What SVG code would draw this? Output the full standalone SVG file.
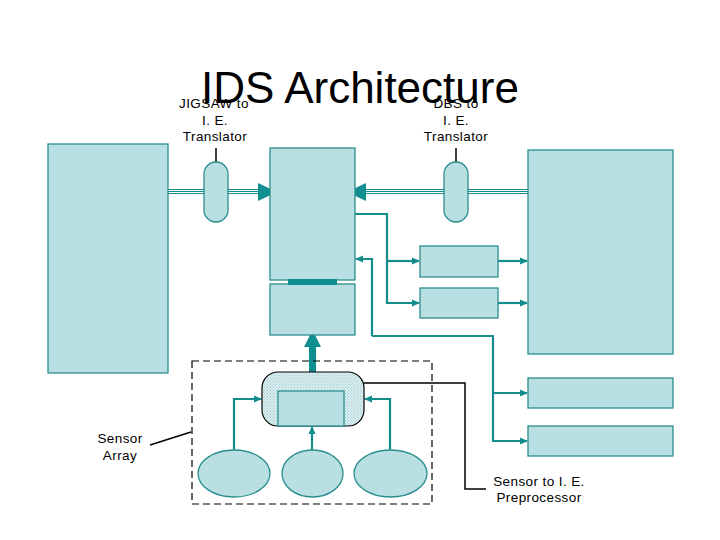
<svg xmlns="http://www.w3.org/2000/svg" width="720" height="540" viewBox="0 0 720 540">
<defs>
<style>
.box{fill:#BADFE3;stroke:#2A8E8E;stroke-width:1.3}
.con{fill:none;stroke:#138C8C;stroke-width:2.2}
.blk{fill:none;stroke:#000;stroke-width:1.5}
.txt{font-family:"Liberation Sans",Arial,sans-serif;font-size:13.5px;fill:#000;text-anchor:middle;letter-spacing:0.4px}
.title{font-family:"Liberation Sans",Arial,sans-serif;font-size:44px;fill:#000}
.tri{fill:#0F8F8F}
.tl{stroke:#138C8C;stroke-width:1}
</style>
<marker id="ah" markerWidth="8" markerHeight="8" refX="7" refY="4" orient="auto" markerUnits="userSpaceOnUse">
<path d="M0,0.5 L8,4 L0,7.5 Z" fill="#138C8C"/>
</marker>
<pattern id="dots" width="3" height="3" patternUnits="userSpaceOnUse">
<rect width="3" height="3" fill="#D6ECEE"/>
<rect x="0" y="0" width="1" height="1" fill="#A3CCD1"/>
<rect x="1.5" y="1.5" width="1" height="1" fill="#B0D4D8"/>
</pattern>
</defs>
<rect width="720" height="540" fill="#fff"/>

<g id="jigsaw-label">
<text class="txt" x="214" y="108">JIGSAW to</text>
<text class="txt" x="215" y="125">I. E.</text>
<text class="txt" x="215" y="141">Translator</text>
</g>
<g id="dbs-label">
<text class="txt" x="456" y="108">DBS to</text>
<text class="txt" x="456" y="125">I. E.</text>
<text class="txt" x="456" y="141">Translator</text>
</g>
<text class="title" x="201" y="103">IDS Architecture</text>

<g id="connectors">
<g class="tl">
<line x1="168" y1="189.5" x2="260" y2="189.5"/>
<line x1="168" y1="191.5" x2="260" y2="191.5"/>
<line x1="168" y1="193.5" x2="260" y2="193.5"/>
<line x1="364" y1="189.5" x2="533" y2="189.5"/>
<line x1="364" y1="191.5" x2="533" y2="191.5"/>
<line x1="364" y1="193.5" x2="533" y2="193.5"/>
</g>
<path class="tri" d="M258,183 L277,192 L258,201 Z"/>
<path class="tri" d="M366,183 L347,192 L366,201 Z"/>
<line class="blk" x1="216" y1="148" x2="216" y2="162" stroke-width="2"/>
<line class="blk" x1="456" y1="148" x2="456" y2="162" stroke-width="2"/>
<path class="con" d="M355,214 H387 V303 H419" marker-end="url(#ah)"/>
<path class="con" d="M387,261 H419" marker-end="url(#ah)"/>
<path class="con" d="M498,261 H527" marker-end="url(#ah)"/>
<path class="con" d="M498,303 H527" marker-end="url(#ah)"/>
<path class="con" d="M372,336 V259 H356" marker-end="url(#ah)"/>
<path class="con" d="M372,336 H493 V441 H527" marker-end="url(#ah)"/>
<path class="con" d="M493,393 H527" marker-end="url(#ah)"/>
<rect x="309" y="346" width="7" height="27" fill="#0F8F8F"/>
<path class="tri" d="M304,347 L312.5,330 L321,347 Z"/>
<path class="con" d="M234,450 V399 H261" marker-end="url(#ah)"/>
<path class="con" d="M312,450 V427" marker-end="url(#ah)"/>
<path class="con" d="M390,450 V399 H365" marker-end="url(#ah)"/>
<path class="blk" d="M364,383 H465 V489 H486"/>
<line class="blk" x1="150" y1="445" x2="191" y2="432"/>
</g>

<g id="jigsaw">
<rect class="box" x="48" y="144" width="120" height="229"/>
</g>
<g id="jigsaw-translator">
<rect class="box" x="204" y="162" width="24" height="60" rx="12" ry="12"/>
</g>
<g id="dbs-translator">
<rect class="box" x="444" y="162" width="24" height="60" rx="12" ry="12"/>
</g>
<g id="ie">
<rect class="box" x="270" y="148" width="85" height="132"/>
</g>
<g id="ie-lower">
<rect class="box" x="270" y="284" width="85" height="51"/>
<rect x="288" y="279" width="49" height="6" fill="#0F8F8F"/>
</g>
<g id="dbs">
<rect class="box" x="528" y="150" width="145" height="204"/>
</g>
<g id="mid1">
<rect class="box" x="420" y="246" width="78" height="31"/>
</g>
<g id="mid2">
<rect class="box" x="420" y="288" width="78" height="30"/>
</g>
<g id="out1">
<rect class="box" x="528" y="378" width="145" height="30"/>
</g>
<g id="out2">
<rect class="box" x="528" y="426" width="145" height="30"/>
</g>

<g id="sensor-array">
<rect x="192" y="361" width="240" height="143" fill="none" stroke="#000" stroke-width="1.2" stroke-dasharray="7,4"/>
</g>
<g id="preprocessor">
<rect x="262" y="372" width="102" height="54" rx="16" ry="16" fill="url(#dots)" stroke="#000" stroke-width="1.2"/>
<rect class="box" x="278" y="391" width="66" height="35"/>
</g>
<g id="sensor1"><ellipse class="box" cx="234" cy="473.5" rx="36" ry="23.5"/></g>
<g id="sensor2"><ellipse class="box" cx="312.5" cy="473.5" rx="30.5" ry="23.5"/></g>
<g id="sensor3"><ellipse class="box" cx="390.5" cy="473.5" rx="36.5" ry="23.5"/></g>

<g id="labels">
<text class="txt" x="120" y="443">Sensor</text>
<text class="txt" x="120" y="460">Array</text>
<text class="txt" x="539" y="486">Sensor to I. E.</text>
<text class="txt" x="539" y="502">Preprocessor</text>
</g>
</svg>
